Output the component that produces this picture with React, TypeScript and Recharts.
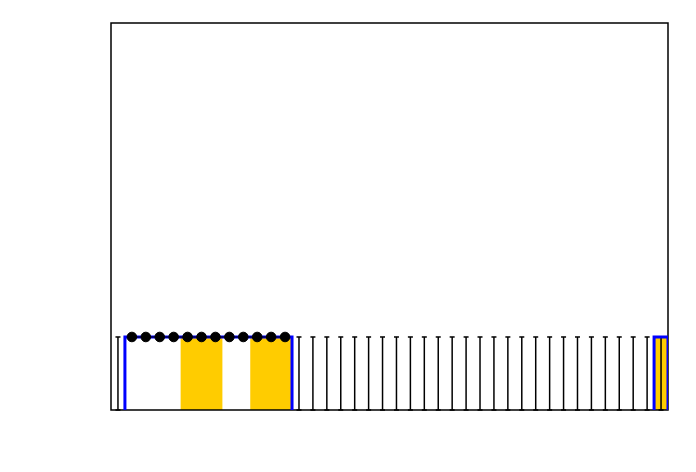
import {
  ComposedChart,
  XAxis,
  YAxis,
  Area,
  Line,
  Scatter,
  ErrorBar,
  ReferenceArea,
} from 'recharts'

// 40 bins along x, one value per bin
const binCount = 40
const counts = [
  0, 1, 1, 1, 1, 1, 1, 1, 1, 1, 1, 1, 1, 0, 0, 0, 0, 0, 0, 0,
  0, 0, 0, 0, 0, 0, 0, 0, 0, 0, 0, 0, 0, 0, 0, 0, 0, 0, 0, 1,
]
const highlighted = [
  0, 0, 0, 0, 0, 1, 1, 1, 0, 0, 1, 1, 1, 0, 0, 0, 0, 0, 0, 0,
  0, 0, 0, 0, 0, 0, 0, 0, 0, 0, 0, 0, 0, 0, 0, 0, 0, 0, 0, 1,
]
const pointBins = [1, 2, 3, 4, 5, 6, 7, 8, 9, 10, 11, 12]
const pointValues = [1, 1, 1, 1, 1, 1, 1, 1, 1, 1, 1, 1]
const errorBins = [
  0, 13, 14, 15, 16, 17, 18, 19, 20, 21, 22, 23, 24, 25, 26, 27, 28, 29, 30, 31,
  32, 33, 34, 35, 36, 37, 38, 39,
]
const errorUpper = 1
const minorTicks = [
  13, 14, 15, 16, 17, 18, 19, 20, 21, 22, 23, 24, 25, 26, 27, 28, 29, 30, 31, 32,
  33, 34, 35, 36, 37, 38, 39,
]
const yMax = 5.3

// step-after rows at bin edges for the filled bins
const edgeRows = Array.from({ length: binCount + 1 }, (_, i) => ({
  x: i,
  fill: highlighted[Math.min(i, binCount - 1)],
}))

// outline of each run of non-empty bins, broken by nulls between runs
function outlineOf(values: number[]) {
  const pts: { x: number; v: number | null }[] = []
  let i = 0
  while (i < values.length) {
    if (values[i] > 0) {
      let j = i
      while (j + 1 < values.length && values[j + 1] > 0) j++
      if (pts.length) pts.push({ x: i, v: null })
      pts.push({ x: i, v: 0 }, { x: i, v: values[i] }, { x: j + 1, v: values[j] }, { x: j + 1, v: 0 })
      i = j + 1
    } else i++
  }
  return pts
}

const outline = outlineOf(counts)
const points = pointBins.map((b, i) => ({ x: b + 0.5, v: pointValues[i] }))
const errors = errorBins.map((b) => ({ x: b + 0.5, v: 0, err: [0, errorUpper] }))

export default function App() {
  return (
    <div style={{ position: 'absolute', left: 0, top: 0, background: '#fff' }}>
      <ComposedChart
        width={696}
        height={472}
        data={edgeRows}
        margin={{ top: 23, right: 28, bottom: 62, left: 111 }}
      >
        <XAxis
          dataKey="x"
          type="number"
          domain={[0, binCount]}
          ticks={minorTicks}
          tick={false}
          tickSize={3}
          mirror
          height={0}
          allowDataOverflow
          axisLine={{ stroke: '#000', strokeWidth: 1.5 }}
          tickLine={{ stroke: '#000', strokeWidth: 1.3 }}
        />
        <YAxis type="number" domain={[0, yMax]} hide width={0} allowDataOverflow />
        <Area
          dataKey="fill"
          type="stepAfter"
          stroke="none"
          fill="#ffcc00"
          fillOpacity={1}
          isAnimationActive={false}
        />
        <Scatter data={errors} dataKey="v" shape={() => <g />} isAnimationActive={false}>
          <ErrorBar dataKey="err" direction="y" width={2.5} stroke="#000" strokeWidth={1.5} />
        </Scatter>
        <Line
          data={outline}
          dataKey="v"
          type="linear"
          stroke="#0000ff"
          strokeWidth={3}
          dot={false}
          connectNulls={false}
          isAnimationActive={false}
        />
        <Line
          data={points}
          dataKey="v"
          type="linear"
          stroke="#000"
          strokeWidth={1.2}
          dot={{ r: 4.8, fill: '#000', stroke: '#000', strokeWidth: 1 }}
          isAnimationActive={false}
        />
        <ReferenceArea x1={0} x2={binCount} y1={0} y2={yMax} fill="none" stroke="#000" strokeWidth={1.5} ifOverflow="visible" />
      </ComposedChart>
    </div>
  )
}
